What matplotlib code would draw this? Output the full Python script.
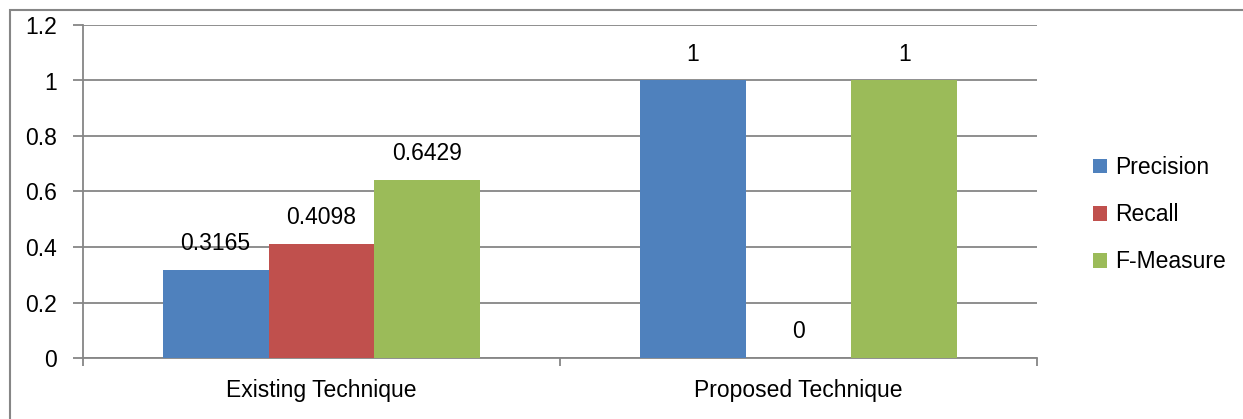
import numpy as np
import matplotlib.pyplot as plt
from matplotlib.patches import Rectangle

plt.rcParams['font.family'] = ['Liberation Sans', 'DejaVu Sans']

techniques = ["Existing Technique", "Proposed Technique"]
metrics = ["Precision", "Recall", "F-Measure"]
precision = [0.3165, 1]
recall = [0.4098, 0]
fmeasure = [0.6429, 1]
yticks = [0, 0.2, 0.4, 0.6, 0.8, 1, 1.2]
colors = ["#4F81BD", "#C0504D", "#9BBB59"]
fs = 16.5

fig = plt.figure(figsize=(12.43, 4.19), dpi=100)
ax = fig.add_axes([83/1243, 1 - 358/419, (1037 - 83)/1243, (358 - 25)/419])

# chart border (left and top edges visible)
fig.patches.append(Rectangle((10/1243, -0.1), 1.2, (409/419) + 0.1, transform=fig.transFigure,
                             fill=False, edgecolor="#868686", linewidth=1.5))

x = np.arange(len(techniques))
w = 0.222
for i, (vals, name) in enumerate(zip([precision, recall, fmeasure], metrics)):
    pos = x + (i - 1) * w
    ax.bar(pos, vals, w, color=colors[i], label=name, zorder=3)
    for p, v in zip(pos, vals):
        ax.annotate(f"{v:g}", (p, v), xytext=(0, 19), textcoords="offset points",
                    ha="center", va="center", fontsize=fs)

ax.set_xlim(-0.5, 1.5)
ax.set_ylim(0, 1.2)
ax.set_yticks(yticks)
ax.set_yticklabels([f"{t:g}" for t in yticks], fontsize=fs)
ax.yaxis.grid(True, color="#868686", linewidth=1.3, zorder=0)
ax.set_xticks(x)
ax.set_xticklabels(techniques, fontsize=fs)
ax.set_xticks([-0.5, 0.5, 1.5], minor=True)
ax.tick_params(axis="x", which="major", length=0, pad=15)
ax.tick_params(axis="x", which="minor", length=6, color="#868686", width=1.3)
ax.tick_params(axis="y", length=7, color="#868686", width=1.3, pad=12)
for s in ["top", "right"]:
    ax.spines[s].set_visible(False)
for s in ["left", "bottom"]:
    ax.spines[s].set_color("#868686")
    ax.spines[s].set_linewidth(1.3)

ax.legend(loc="center left", bbox_to_anchor=(1.049, 0.43), frameon=False, fontsize=fs,
          borderaxespad=0, handlelength=0.6, handleheight=0.6, handletextpad=0.35,
          labelspacing=1.05)

fig.savefig("out.png", dpi=100)
